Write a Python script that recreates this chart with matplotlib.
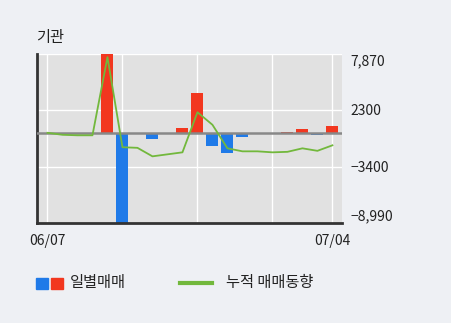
import matplotlib
matplotlib.use('Agg')
import matplotlib.pyplot as plt
from matplotlib.lines import Line2D

plt.rcParams['font.family'] = ['Noto Sans CJK KR', 'DejaVu Sans']
plt.rcParams['font.weight'] = 'light'

# 일별 매매 (기관), 누적 매매동향
dias = list(range(20))
rotulos_x = ['06/07', '07/04']
pos_rotulos_x = [0, 19]
grade_x = [0, 5, 10, 15, 19]
diario = [0, -150, -50, 0, 7870, -8990, -60, -650, 0, 450,
          3980, -1350, -2050, -450, 0, -100, 50, 350, -200, 650]
acumulado = [0, -200, -250, -250, 7550, -1440, -1500, -2350, -2150, -1950,
             2050, 800, -1550, -1850, -1850, -1950, -1900, -1550, -1800, -1250]
ticks_y = [7870, 2300, -3400, -8990]
rotulos_y = ['7,870', '2300', '\u22123400', '\u22128,990']

fundo = '#eef0f4'
fig = plt.figure(figsize=(4.51, 3.23), dpi=100, facecolor=fundo)
ax = fig.add_axes([0.082, 0.310, 0.676, 0.523])
ax.set_facecolor('#e1e1e1')

cores = ['#f2371f' if v >= 0 else '#1f7ae8' for v in diario]
ax.bar(dias, diario, width=0.8, color=cores, zorder=2)
ax.axhline(0, color='#888888', lw=1.8, zorder=3)
ax.plot(dias, acumulado, color='#72b83c', lw=1.3, zorder=4)

ax.set_xlim(-0.7, 19.63)
ax.set_ylim(-8990, 7870)
ax.set_xticks(grade_x)
ax.set_xticklabels([])
ax.set_yticks(ticks_y)
ax.set_yticklabels(rotulos_y)
ax.grid(True, color='white', lw=1, zorder=1)
ax.tick_params(axis='both', length=0, colors='#222222', labelsize=10)
ax.yaxis.tick_right()
ax.tick_params(axis='y', pad=6)
labs = ax.get_yticklabels()
labs[0].set_va('top')
labs[-1].set_va('bottom')
for p, t in zip(pos_rotulos_x, rotulos_x):
    ax.annotate(t, xy=(p, 0), xycoords=('data', 'axes fraction'), xytext=(0, -8),
                textcoords='offset points', ha='center', va='top', fontsize=10, color='#222222')

for s in ['top', 'right']:
    ax.spines[s].set_visible(False)
for s in ['left', 'bottom']:
    ax.spines[s].set_color('#333333')
    ax.spines[s].set_linewidth(2)

fig.text(0.080, 0.885, '기관', fontsize=11, color='#222222', va='center', ha='left')

fig.add_artist(plt.Rectangle((0.080, 0.105), 0.0266, 0.034, transform=fig.transFigure, color='#1f7ae8'))
fig.add_artist(plt.Rectangle((0.113, 0.105), 0.0266, 0.034, transform=fig.transFigure, color='#f2371f'))
fig.text(0.155, 0.124, '일별매매', fontsize=11, color='#222222', va='center')
fig.add_artist(Line2D([0.399, 0.470], [0.124, 0.124], transform=fig.transFigure, color='#72b83c', lw=3))
fig.text(0.501, 0.124, '누적 매매동향', fontsize=11, color='#222222', va='center')

fig.savefig('out.png', dpi=100, facecolor=fundo)
